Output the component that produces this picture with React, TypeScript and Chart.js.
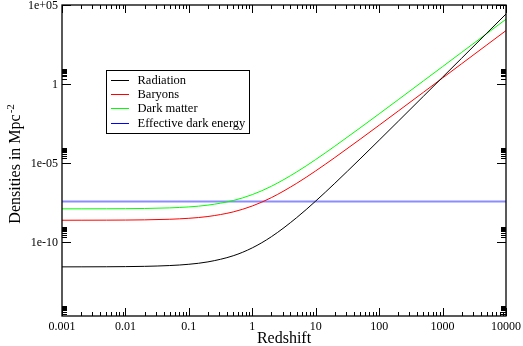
import React, { useEffect, useRef } from "react";
import { Chart, registerables } from "chart.js";

Chart.register(...registerables);

// Redshift sample points (x axis)
const redshift = [
  0.001, 0.002, 0.005, 0.01, 0.02, 0.05, 0.1, 0.2, 0.5, 1, 2, 5, 10, 20, 50, 100,
  200, 500, 1000, 2000, 5000, 10000,
];

// Densities in Mpc^-2
const radiation = [
  2.7e-12, 2.71e-12, 2.74e-12, 2.8e-12, 2.91e-12, 3.27e-12, 3.94e-12, 5.58e-12,
  1.36e-11, 4.3e-11, 2.18e-10, 3.49e-9, 3.94e-8, 5.23e-7, 1.82e-5, 2.8e-4,
  4.39e-3, 0.1695, 2.7, 43.1, 1683, 26900,
];
const baryons = [
  2.407e-9, 2.414e-9, 2.436e-9, 2.473e-9, 2.547e-9, 2.778e-9, 3.194e-9, 4.147e-9,
  8.1e-9, 1.92e-8, 6.48e-8, 5.18e-7, 3.194e-6, 2.223e-5, 3.184e-4, 2.473e-3,
  1.949e-2, 0.3018, 2.407, 19.23, 300.2, 2401,
];
const darkMatter = [
  1.263e-8, 1.267e-8, 1.278e-8, 1.297e-8, 1.336e-8, 1.457e-8, 1.676e-8, 2.176e-8,
  4.25e-8, 1.007e-7, 3.4e-7, 2.72e-6, 1.676e-5, 1.166e-4, 1.67e-3, 1.297e-2,
  0.1022, 1.583, 12.63, 100.9, 1575, 12594,
];
const darkEnergy = [
  3.63e-8, 3.63e-8, 3.63e-8, 3.63e-8, 3.63e-8, 3.63e-8, 3.63e-8, 3.63e-8,
  3.63e-8, 3.63e-8, 3.63e-8, 3.63e-8, 3.63e-8, 3.63e-8, 3.63e-8, 3.63e-8,
  3.63e-8, 3.63e-8, 3.63e-8, 3.63e-8, 3.63e-8, 3.63e-8,
];

const seriesNames = ["Radiation", "Baryons", "Dark matter", "Effective dark energy"];
const seriesColors = ["#000000", "#ff0000", "#00ff00", "#0000ff"];
const plotColors = ["#000000", "#ff0000", "#00ff00", "#8c8cff"];
const plotWidths = [1, 1, 1, 2];

const xMajorTicks = [0.001, 0.01, 0.1, 1, 10, 100, 1000, 10000];
const xTickLabels = ["0.001", "0.01", "0.1", "1", "10", "100", "1000", "10000"];
const yMajorTicks = [1e5, 1, 1e-5, 1e-10];
const yTickLabels = ["1e+05", "1", "1e-05", "1e-10"];
const yMinorBases = [1e-15, 1e-10, 1e-5, 1];

const X_MIN = 0.001;
const X_MAX = 10000;
const Y_MIN = 2.1e-15;
const Y_MAX = 1e5;

const FONT = '"Liberation Serif", "Times New Roman", serif';

const decorPlugin = {
  id: "decor",
  afterDraw(chart: any) {
    const { ctx, chartArea } = chart;
    const xs = chart.scales.x;
    const ys = chart.scales.y;
    const { left, right, top, bottom } = chartArea;
    ctx.save();
    ctx.strokeStyle = "#000";
    ctx.fillStyle = "#000";
    ctx.lineWidth = 1;

    const hline = (x1: number, y1: number, x2: number, y2: number) => {
      ctx.beginPath();
      ctx.moveTo(x1, y1);
      ctx.lineTo(x2, y2);
      ctx.stroke();
    };

    // frame
    ctx.lineWidth = 1.3;
    ctx.strokeRect(left, top, right - left, bottom - top);
    ctx.lineWidth = 1;

    // x ticks
    xMajorTicks.forEach((v) => {
      const px = Math.round(xs.getPixelForValue(v)) + 0.5;
      hline(px, bottom, px, bottom - 8);
      hline(px, top, px, top + 8);
    });
    for (let k = 0; k < xMajorTicks.length - 1; k++) {
      for (let m = 2; m <= 9; m++) {
        const v = xMajorTicks[k] * m;
        const px = Math.round(xs.getPixelForValue(v)) + 0.5;
        hline(px, bottom, px, bottom - 4);
        hline(px, top, px, top + 4);
      }
    }
    // y ticks
    yMajorTicks.forEach((v) => {
      const py = Math.round(ys.getPixelForValue(v)) + 0.5;
      hline(left, py, left + 9, py);
      hline(right, py, right - 9, py);
    });
    yMinorBases.forEach((b) => {
      for (let m = 2; m <= 9; m++) {
        const v = b * m;
        if (v < Y_MIN || v > Y_MAX) continue;
        const py = Math.round(ys.getPixelForValue(v)) + 0.5;
        hline(left, py, left + 5, py);
        hline(right, py, right - 5, py);
      }
    });

    // tick labels
    ctx.font = `12px ${FONT}`;
    ctx.textAlign = "center";
    ctx.textBaseline = "alphabetic";
    xMajorTicks.forEach((v, i) => {
      ctx.fillText(xTickLabels[i], xs.getPixelForValue(v), 330);
    });
    ctx.textAlign = "right";
    yMajorTicks.forEach((v, i) => {
      ctx.fillText(yTickLabels[i], left - 4, ys.getPixelForValue(v) + 4.3);
    });

    // axis titles
    ctx.font = `16px ${FONT}`;
    ctx.textAlign = "center";
    ctx.fillText("Redshift", (left + right) / 2, 343);

    ctx.save();
    ctx.translate(14, 169);
    ctx.rotate(-Math.PI / 2);
    const mainText = "Densities in Mpc";
    const w = ctx.measureText(mainText).width;
    ctx.textAlign = "center";
    ctx.fillText(mainText, 0, 6);
    ctx.font = `11px ${FONT}`;
    ctx.textAlign = "left";
    ctx.fillText("-2", w / 2 + 1, 0);
    ctx.restore();

    // legend
    const lx = 106.5;
    const ly = 70.5;
    ctx.lineWidth = 1;
    ctx.strokeStyle = "#000";
    ctx.fillStyle = "#fff";
    ctx.fillRect(lx, ly, 143, 63);
    ctx.strokeRect(lx, ly, 143, 63);
    ctx.font = `12.5px ${FONT}`;
    ctx.textAlign = "left";
    ctx.textBaseline = "middle";
    seriesNames.forEach((name, i) => {
      const y = Math.round(80 + i * 14.2) + 0.5;
      ctx.strokeStyle = seriesColors[i];
      hline(111, y, 129, y);
      ctx.fillStyle = "#000";
      ctx.fillText(name, 137.5, y);
    });

    ctx.restore();
  },
};

export default function App() {
  const ref = useRef<HTMLCanvasElement | null>(null);
  useEffect(() => {
    if (!ref.current) return;
    const all = [radiation, baryons, darkMatter, darkEnergy];
    const chart = new Chart(ref.current, {
      type: "line",
      data: {
        datasets: all.map((vals, i) => ({
          label: seriesNames[i],
          data: redshift.map((z, j) => ({ x: z, y: vals[j] })),
          borderColor: plotColors[i],
          backgroundColor: plotColors[i],
          borderWidth: plotWidths[i],
          pointRadius: 0,
          cubicInterpolationMode: "monotone" as const,
          fill: false,
        })),
      },
      options: {
        responsive: false,
        animation: false,
        devicePixelRatio: 1,
        layout: { padding: { left: 62, right: 17, top: 5, bottom: 30 } },
        plugins: { legend: { display: false }, tooltip: { enabled: false } },
        events: [],
        scales: {
          x: { type: "logarithmic", min: X_MIN, max: X_MAX, display: false },
          y: { type: "logarithmic", min: Y_MIN, max: Y_MAX, display: false },
        },
      },
      plugins: [decorPlugin],
    });
    return () => chart.destroy();
  }, []);
  return (
    <div style={{ position: "fixed", left: 0, top: 0, width: 523, height: 346, background: "#fff" }}>
      <canvas ref={ref} width={523} height={346} style={{ display: "block" }} />
    </div>
  );
}
